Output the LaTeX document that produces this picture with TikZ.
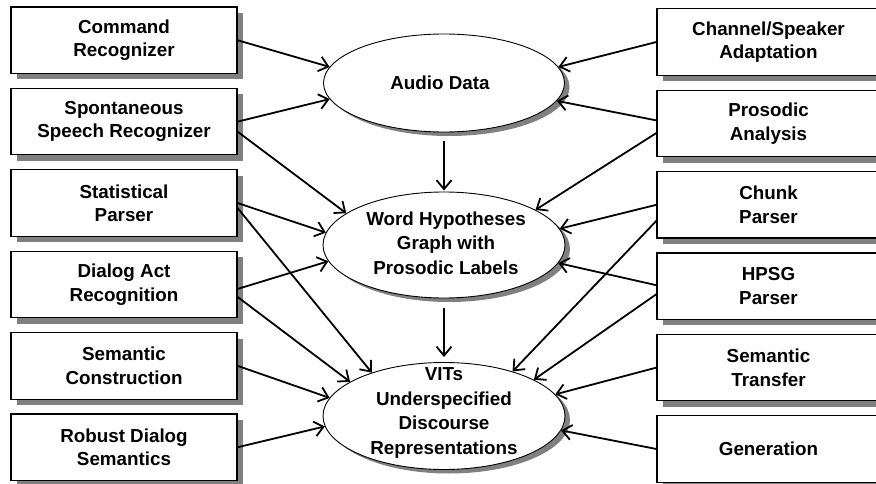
\documentclass[tikz,border=0pt]{standalone}
\usepackage{fontspec}
\setmainfont{Liberation Sans}
\usetikzlibrary{arrows.meta,shadows,shapes.geometric}
\begin{document}
\begin{tikzpicture}[x=1pt,y=-1pt,
  txt/.style={font=\bfseries\fontsize{18.8}{23.5}\selectfont, align=center, inner sep=0pt},
  etxt/.style={font=\bfseries\fontsize{18.8}{24.5}\selectfont, align=center, inner sep=0pt},
  box/.style={txt, draw=black, line width=1.2pt, fill=white, minimum height=66.5pt,
    drop shadow={shadow xshift=6pt, shadow yshift=-6pt, fill=gray, opacity=1}},
  lbox/.style={box, minimum width=226pt},
  rbox/.style={box, minimum width=223pt},
  ell/.style={ellipse, draw=black, line width=0.9pt, fill=white, inner sep=0pt,
    drop shadow={shadow xshift=5pt, shadow yshift=-4pt, fill=gray, opacity=1}},
  arr/.style={line width=1.8pt, -{Straight Barb[length=9pt,width=15pt]}}
]
\useasboundingbox (0,0) rectangle (876,484);
\clip (0,0) rectangle (876,484);

% left boxes
\node[lbox] (L1) at (124,40.25)  {Command\\Recognizer};
\node[lbox] (L2) at (124,121.65) {Spontaneous\\Speech Recognizer};
\node[lbox] (L3) at (124,203.05) {Statistical\\Parser};
\node[lbox] (L4) at (124,284.45) {Dialog Act\\Recognition};
\node[lbox] (L5) at (124,365.85) {Semantic\\Construction};
\node[lbox] (L6) at (124,447.25) {Robust Dialog\\Semantics};

% right boxes
\node[rbox] (R1) at (768.5,42)    {Channel/Speaker\\Adaptation};
\node[rbox] (R2) at (768.5,123.4) {Prosodic\\Analysis};
\node[rbox] (R3) at (768.5,204.8) {Chunk\\Parser};
\node[rbox] (R4) at (768.5,286.2) {HPSG\\Parser};
\node[rbox] (R5) at (768.5,367.6) {Semantic\\Transfer};
\node[rbox] (R6) at (768.5,449)   {Generation};

% ellipses
\node[ell, minimum width=241pt, minimum height=98pt]  (audio) at (444,83)  {};
\node[ell, minimum width=242pt, minimum height=106pt] (wh)    at (444,245) {};
\node[ell, minimum width=242pt, minimum height=107pt] (vit)   at (444,416) {};
\node[etxt] (audiot) at (440,83)  {Audio Data};
\node[etxt] (wht)    at (446,243) {Word Hypotheses\\Graph with\\Prosodic Labels};
\node[etxt] (vitt)   at (444,413) {VITs\\Underspecified\\Discourse\\Representations};

% vertical arrows
\draw[arr, shorten <=9pt, shorten >=1pt] (audio.south) -- (wh.north);
\draw[arr, shorten <=10pt, shorten >=5pt] (wh.south) -- (vit.north);

% left arrows
\draw[arr] (L1.east) -- (audio.172.9);
\draw[arr] (L2.east) -- (audio.188.2);
\draw[arr] ([yshift=-10pt]L2.east) -- (wh.162.5);
\draw[arr] (L3.east) -- (wh.174.1);
\draw[arr] ([yshift=-5pt]L3.east) -- (vit.149.1);
\draw[arr] ([yshift=-4.5pt]L4.east) -- (wh.188.5);
\draw[arr] ([yshift=-12.5pt]L4.east) -- (vit.160.3);
\draw[arr] (L5.east) -- (vit.171.3);
\draw[arr] (L6.east) -- (vit.185.6);

% right arrows
\draw[arr] (R1.west) -- (audio.8);
\draw[arr] ([yshift=3pt]R2.west) -- (audio.351.4);
\draw[arr] ([yshift=-9.6pt]R2.west) -- (wh.21);
\draw[arr] (R3.west) -- (wh.8.3);
\draw[arr] ([yshift=-16pt]R3.west) -- (vit.33.9);
\draw[arr] ([yshift=1pt]R4.west) -- (wh.351.3);
\draw[arr] ([yshift=-8pt]R4.west) -- (vit.22.1);
\draw[arr] (R5.west) -- (vit.11.4);
\draw[arr] (R6.west) -- (vit.353.7);
\end{tikzpicture}
\end{document}
